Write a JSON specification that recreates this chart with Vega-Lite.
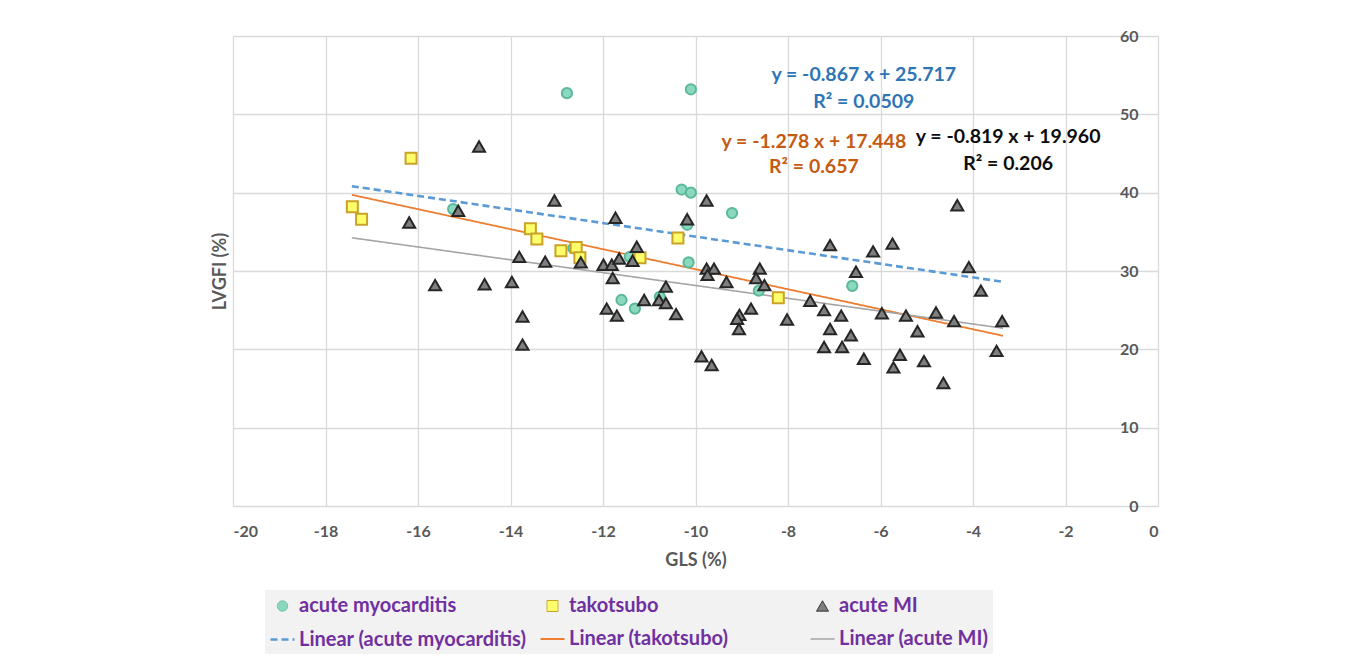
{
  "$schema": "https://vega.github.io/schema/vega-lite/v6.json",
  "width": 925,
  "height": 470,
  "autosize": {"type": "none"},
  "padding": {"left": 233, "top": 36, "right": 199, "bottom": 152},
  "background": "white",
  "config": {
    "font": "Lato",
    "view": {"stroke": null},
    "axis": {
      "labelFont": "Lato", "titleFont": "Lato",
      "labelColor": "#595959", "titleColor": "#595959",
      "labelFontWeight": "bold", "titleFontWeight": "bold",
      "labelFontSize": 16, "titleFontSize": 18,
      "gridColor": "#d9d9d9", "gridWidth": 1.3,
      "ticks": false, "tickSize": 0, "domain": false
    },
    "legend": {
      "labelFont": "Lato", "labelFontSize": 20, "labelFontWeight": "bold", "labelColor": "#7030a0",
      "labelLimit": 400, "symbolOpacity": 1
    }
  },
  "datasets": {
    "points": [
      {"gls": -12.78, "lvgfi": 52.7, "series": "acute myocarditis"},
      {"gls": -10.10, "lvgfi": 53.2, "series": "acute myocarditis"},
      {"gls": -10.30, "lvgfi": 40.4, "series": "acute myocarditis"},
      {"gls": -10.10, "lvgfi": 40.0, "series": "acute myocarditis"},
      {"gls": -9.21, "lvgfi": 37.4, "series": "acute myocarditis"},
      {"gls": -10.18, "lvgfi": 35.9, "series": "acute myocarditis"},
      {"gls": -10.15, "lvgfi": 31.1, "series": "acute myocarditis"},
      {"gls": -15.24, "lvgfi": 37.9, "series": "acute myocarditis"},
      {"gls": -12.64, "lvgfi": 32.9, "series": "acute myocarditis"},
      {"gls": -11.60, "lvgfi": 26.3, "series": "acute myocarditis"},
      {"gls": -11.31, "lvgfi": 25.2, "series": "acute myocarditis"},
      {"gls": -10.77, "lvgfi": 26.7, "series": "acute myocarditis"},
      {"gls": -8.63, "lvgfi": 27.5, "series": "acute myocarditis"},
      {"gls": -6.61, "lvgfi": 28.1, "series": "acute myocarditis"},
      {"gls": -11.42, "lvgfi": 31.8, "series": "acute myocarditis"},
      {"gls": -16.15, "lvgfi": 44.4, "series": "takotsubo"},
      {"gls": -17.42, "lvgfi": 38.2, "series": "takotsubo"},
      {"gls": -17.22, "lvgfi": 36.6, "series": "takotsubo"},
      {"gls": -13.57, "lvgfi": 35.4, "series": "takotsubo"},
      {"gls": -13.43, "lvgfi": 34.1, "series": "takotsubo"},
      {"gls": -12.91, "lvgfi": 32.6, "series": "takotsubo"},
      {"gls": -12.58, "lvgfi": 33.0, "series": "takotsubo"},
      {"gls": -12.50, "lvgfi": 31.7, "series": "takotsubo"},
      {"gls": -11.20, "lvgfi": 31.7, "series": "takotsubo"},
      {"gls": -10.38, "lvgfi": 34.2, "series": "takotsubo"},
      {"gls": -8.21, "lvgfi": 26.6, "series": "takotsubo"},
      {"gls": -14.68, "lvgfi": 45.9, "series": "acute MI"},
      {"gls": -15.13, "lvgfi": 37.7, "series": "acute MI"},
      {"gls": -16.19, "lvgfi": 36.2, "series": "acute MI"},
      {"gls": -13.81, "lvgfi": 31.8, "series": "acute MI"},
      {"gls": -13.25, "lvgfi": 31.2, "series": "acute MI"},
      {"gls": -15.63, "lvgfi": 28.2, "series": "acute MI"},
      {"gls": -14.56, "lvgfi": 28.3, "series": "acute MI"},
      {"gls": -13.97, "lvgfi": 28.6, "series": "acute MI"},
      {"gls": -13.74, "lvgfi": 24.2, "series": "acute MI"},
      {"gls": -13.74, "lvgfi": 20.6, "series": "acute MI"},
      {"gls": -13.05, "lvgfi": 39.0, "series": "acute MI"},
      {"gls": -11.73, "lvgfi": 36.8, "series": "acute MI"},
      {"gls": -9.76, "lvgfi": 39.0, "series": "acute MI"},
      {"gls": -10.18, "lvgfi": 36.6, "series": "acute MI"},
      {"gls": -11.27, "lvgfi": 33.1, "series": "acute MI"},
      {"gls": -12.48, "lvgfi": 31.1, "series": "acute MI"},
      {"gls": -11.99, "lvgfi": 30.8, "series": "acute MI"},
      {"gls": -11.81, "lvgfi": 30.8, "series": "acute MI"},
      {"gls": -11.65, "lvgfi": 31.6, "series": "acute MI"},
      {"gls": -11.36, "lvgfi": 31.3, "series": "acute MI"},
      {"gls": -9.76, "lvgfi": 30.3, "series": "acute MI"},
      {"gls": -9.60, "lvgfi": 30.3, "series": "acute MI"},
      {"gls": -8.61, "lvgfi": 30.3, "series": "acute MI"},
      {"gls": -7.09, "lvgfi": 33.3, "series": "acute MI"},
      {"gls": -6.53, "lvgfi": 29.9, "series": "acute MI"},
      {"gls": -11.79, "lvgfi": 29.1, "series": "acute MI"},
      {"gls": -10.64, "lvgfi": 28.0, "series": "acute MI"},
      {"gls": -11.92, "lvgfi": 25.2, "series": "acute MI"},
      {"gls": -11.70, "lvgfi": 24.3, "series": "acute MI"},
      {"gls": -11.11, "lvgfi": 26.3, "series": "acute MI"},
      {"gls": -10.79, "lvgfi": 26.3, "series": "acute MI"},
      {"gls": -10.64, "lvgfi": 25.9, "series": "acute MI"},
      {"gls": -10.42, "lvgfi": 24.5, "series": "acute MI"},
      {"gls": -9.74, "lvgfi": 29.5, "series": "acute MI"},
      {"gls": -9.33, "lvgfi": 28.6, "series": "acute MI"},
      {"gls": -8.69, "lvgfi": 29.1, "series": "acute MI"},
      {"gls": -8.51, "lvgfi": 28.2, "series": "acute MI"},
      {"gls": -9.05, "lvgfi": 24.4, "series": "acute MI"},
      {"gls": -9.10, "lvgfi": 23.9, "series": "acute MI"},
      {"gls": -9.06, "lvgfi": 22.6, "series": "acute MI"},
      {"gls": -8.80, "lvgfi": 25.2, "series": "acute MI"},
      {"gls": -8.02, "lvgfi": 23.8, "series": "acute MI"},
      {"gls": -9.87, "lvgfi": 19.1, "series": "acute MI"},
      {"gls": -9.65, "lvgfi": 18.0, "series": "acute MI"},
      {"gls": -7.52, "lvgfi": 26.2, "series": "acute MI"},
      {"gls": -7.22, "lvgfi": 25.0, "series": "acute MI"},
      {"gls": -6.85, "lvgfi": 24.3, "series": "acute MI"},
      {"gls": -7.09, "lvgfi": 22.6, "series": "acute MI"},
      {"gls": -7.22, "lvgfi": 20.3, "series": "acute MI"},
      {"gls": -6.83, "lvgfi": 20.3, "series": "acute MI"},
      {"gls": -6.64, "lvgfi": 21.8, "series": "acute MI"},
      {"gls": -6.16, "lvgfi": 32.5, "series": "acute MI"},
      {"gls": -6.36, "lvgfi": 18.8, "series": "acute MI"},
      {"gls": -5.97, "lvgfi": 24.6, "series": "acute MI"},
      {"gls": -5.45, "lvgfi": 24.3, "series": "acute MI"},
      {"gls": -5.58, "lvgfi": 19.3, "series": "acute MI"},
      {"gls": -5.72, "lvgfi": 17.7, "series": "acute MI"},
      {"gls": -5.20, "lvgfi": 22.3, "series": "acute MI"},
      {"gls": -5.06, "lvgfi": 18.5, "series": "acute MI"},
      {"gls": -4.80, "lvgfi": 24.7, "series": "acute MI"},
      {"gls": -4.64, "lvgfi": 15.7, "series": "acute MI"},
      {"gls": -4.41, "lvgfi": 23.6, "series": "acute MI"},
      {"gls": -4.09, "lvgfi": 30.5, "series": "acute MI"},
      {"gls": -3.83, "lvgfi": 27.5, "series": "acute MI"},
      {"gls": -3.49, "lvgfi": 19.8, "series": "acute MI"},
      {"gls": -3.37, "lvgfi": 23.6, "series": "acute MI"},
      {"gls": -5.74, "lvgfi": 33.5, "series": "acute MI"},
      {"gls": -4.34, "lvgfi": 38.4, "series": "acute MI"}
    ],
    "fits": [
      {"gls": -17.43, "lvgfi": 40.83, "series": "Linear (acute myocarditis)"},
      {"gls": -3.35, "lvgfi": 28.62, "series": "Linear (acute myocarditis)"},
      {"gls": -17.43, "lvgfi": 39.72, "series": "Linear (takotsubo)"},
      {"gls": -3.35, "lvgfi": 21.73, "series": "Linear (takotsubo)"},
      {"gls": -17.43, "lvgfi": 34.24, "series": "Linear (acute MI)"},
      {"gls": -3.35, "lvgfi": 22.70, "series": "Linear (acute MI)"}
    ],
    "notes": [
      {"gls": -6.36, "lvgfi": 55.0, "t": "y = -0.867 x + 25.717", "fit": "myo"},
      {"gls": -6.36, "lvgfi": 51.6, "t": "R² = 0.0509", "fit": "myo"},
      {"gls": -7.44, "lvgfi": 46.5, "t": "y = -1.278 x + 17.448", "fit": "tako"},
      {"gls": -7.44, "lvgfi": 43.3, "t": "R² = 0.657", "fit": "tako"},
      {"gls": -3.24, "lvgfi": 47.1, "t": "y = -0.819 x + 19.960", "fit": "mi"},
      {"gls": -3.24, "lvgfi": 43.7, "t": "R² = 0.206", "fit": "mi"}
    ]
  },
  "resolve": {"axis": {"x": "independent", "y": "independent"}},
  "layer": [
    {
      "data": {"name": "fits"},
      "mark": {"type": "line"},
      "encoding": {
        "x": {"field": "gls", "type": "quantitative",
              "scale": {"domain": [-20, 0], "nice": false, "zero": false},
              "axis": {"values": [-20, -18, -16, -14, -12, -10, -8, -6, -4, -2, 0], "grid": true,
                       "labelExpr": "'' + datum.value",
                       "title": "GLS (%)", "labelPadding": 17, "titlePadding": 12}},
        "y": {"field": "lvgfi", "type": "quantitative",
              "scale": {"domain": [0, 60], "nice": false},
              "axis": {"orient": "left", "title": "LVGFI (%)", "labels": false, "grid": false, "titlePadding": 4}},
        "stroke": {"field": "series", "type": "nominal",
                   "scale": {"domain": ["acute myocarditis", "takotsubo", "acute MI", "Linear (acute myocarditis)", "Linear (takotsubo)", "Linear (acute MI)"],
                             "range": ["#5cb89c", "#c9a227", "#262626", "#5b9bd5", "#ed7d31", "#a5a5a5"]}},
        "strokeDash": {"field": "series", "type": "nominal",
                       "scale": {"domain": ["acute myocarditis", "takotsubo", "acute MI", "Linear (acute myocarditis)", "Linear (takotsubo)", "Linear (acute MI)"],
                                 "range": [[1, 0], [1, 0], [1, 0], [7, 4], [1, 0], [1, 0]]}},
        "strokeWidth": {"field": "series", "type": "nominal",
                        "scale": {"type": "ordinal",
                                  "domain": ["acute myocarditis", "takotsubo", "acute MI", "Linear (acute myocarditis)", "Linear (takotsubo)", "Linear (acute MI)"],
                                  "range": [1, 1, 1, 2.6, 1.8, 1.6]}}
      }
    },
    {
      "data": {"name": "points"},
      "mark": {"type": "point", "opacity": 1},
      "encoding": {
        "x": {"field": "gls", "type": "quantitative", "axis": null},
        "y": {"field": "lvgfi", "type": "quantitative",
              "axis": {"orient": "right", "title": null, "values": [0, 10, 20, 30, 40, 50, 60], "grid": true,
                       "labelAlign": "right", "labelPadding": -20, "labelBaseline": "middle"}},
        "fill": {"field": "series", "type": "nominal",
                 "scale": {"domain": ["acute myocarditis", "takotsubo", "acute MI", "Linear (acute myocarditis)", "Linear (takotsubo)", "Linear (acute MI)"],
                           "range": ["#8ad9bf", "#ffff6b", "#7f7f7f", "transparent", "transparent", "transparent"]},
                 "legend": {
                   "title": null, "orient": "none", "legendX": 32, "legendY": 554,
                   "direction": "horizontal", "columns": 3, "gridAlign": "all",
                   "columnPadding": 9, "rowPadding": 8, "padding": 4,
                   "fillColor": "#f2f2f2", "labelOffset": 3, "labelLimit": 400,
                   "labelFont": "Lato", "labelFontSize": 20, "labelFontWeight": "bold", "labelColor": "#7030a0"
                 }},
        "stroke": {"field": "series", "type": "nominal"},
        "shape": {"field": "series", "type": "nominal",
                  "scale": {"domain": ["acute myocarditis", "takotsubo", "acute MI", "Linear (acute myocarditis)", "Linear (takotsubo)", "Linear (acute MI)"],
                            "range": ["circle", "square", "triangle-up", "stroke", "stroke", "stroke"]}},
        "size": {"field": "series", "type": "nominal",
                 "scale": {"type": "ordinal",
                           "domain": ["acute myocarditis", "takotsubo", "acute MI", "Linear (acute myocarditis)", "Linear (takotsubo)", "Linear (acute MI)"],
                           "range": [105, 121, 144, 576, 576, 576]}}
      }
    },
    {
      "data": {"name": "notes"},
      "mark": {"type": "text", "font": "Lato", "fontSize": 19.5, "fontWeight": "bold", "align": "center", "baseline": "middle"},
      "encoding": {
        "x": {"field": "gls", "type": "quantitative", "axis": null},
        "y": {"field": "lvgfi", "type": "quantitative", "axis": null},
        "text": {"field": "t"},
        "color": {"field": "fit", "type": "nominal", "legend": null,
                  "scale": {"domain": ["myo", "tako", "mi"], "range": ["#2e75b6", "#c55a11", "#0d0d0d"]}}
      }
    }
  ]
}
